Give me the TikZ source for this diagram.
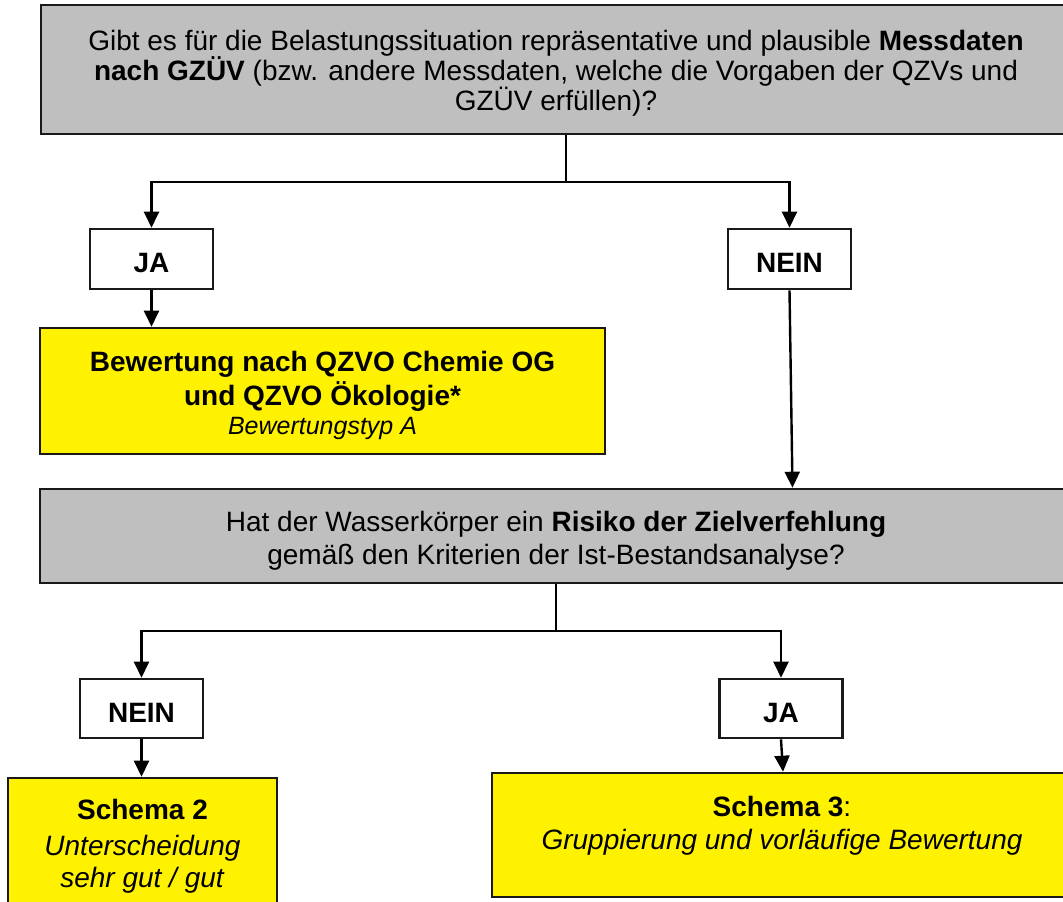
\documentclass[tikz,border=0pt]{standalone}
\usepackage{fontspec}
\setmainfont{Liberation Sans}
\usetikzlibrary{arrows.meta}
\begin{document}
\begin{tikzpicture}[x=1pt,y=-1pt,
  box/.style={draw=black!90, line width=2.6pt, rectangle, inner sep=0pt},
  question/.style={box, fill=gray!50},
  answer/.style={box, fill=white, minimum width=123pt, minimum height=60pt},
  result/.style={box, fill=yellow},
  txt/.style={align=center, inner sep=0pt},
  anstxt/.style={txt, font=\fontsize{28}{30}\selectfont\bfseries},
  link/.style={line width=2.4pt, -{Triangle[width=15pt,length=16pt]}},
  trunk/.style={line width=2.4pt}
]
\useasboundingbox (0,0) rectangle (1063,902);

% boxes
\node[question, minimum width=1030pt, minimum height=129pt] (q1) at (556,69.5) {};
\node[answer] (ja1) at (151.5,259) {};
\node[answer] (nein1) at (789.5,259) {};
\node[result, minimum width=565pt, minimum height=126pt] (r1) at (322.5,391) {};
\node[question, minimum width=1032pt, minimum height=94pt] (q2) at (556,536) {};
\node[answer, minimum height=59pt] (nein2) at (141.5,708.5) {};
\node[answer, minimum height=59pt] (ja2) at (781,708.5) {};
\node[result, minimum width=269pt, minimum height=134pt] (r2) at (142.5,845) {};
\node[result, minimum width=580pt, minimum height=124pt] (r3) at (782,835) {};

% box texts
\node[txt, font=\fontsize{28}{30}\selectfont] (q1t) at (556,73.5)
  {Gibt es für die Belastungssituation repräsentative und plausible \textbf{Messdaten}\\
   \textbf{nach GZÜV} (bzw. andere Messdaten, welche die Vorgaben der QZVs und\\
   GZÜV erfüllen)?};
\node[anstxt] (ja1t) at (151.5,263) {JA};
\node[anstxt] (nein1t) at (789.5,263) {NEIN};
\node[txt, font=\fontsize{28}{34}\selectfont] (r1t) at (322.5,395)
  {\textbf{Bewertung nach QZVO Chemie OG}\\
   \textbf{und QZVO Ökologie*}\\[-5pt]
   {\fontsize{25}{29}\selectfont\itshape Bewertungstyp A}};
\node[txt, font=\fontsize{28}{33}\selectfont] (q2t) at (556,541)
  {Hat der Wasserkörper ein \textbf{Risiko der Zielverfehlung}\\
   gemäß den Kriterien der Ist-Bestandsanalyse?};
\node[anstxt] (nein2t) at (141.5,712.5) {NEIN};
\node[anstxt] (ja2t) at (781,712.5) {JA};
\node[txt, font=\fontsize{28}{34}\selectfont] (r2t) at (142.5,846.5)
  {\textbf{Schema 2}\\[2pt]
   \textit{Unterscheidung}\\[-2pt]
   \textit{sehr gut / gut}};
\node[txt, font=\fontsize{28}{33}\selectfont] (r3t) at (782,826)
  {\textbf{Schema 3}:\\
   \textit{Gruppierung und vorläufige Bewertung}};

% branching connectors
\coordinate (b1) at (566,182);
\coordinate (b2) at (556,631);

\draw[trunk] (q1.south -| b1) -- (b1);
\draw[link] (b1) -| (ja1.north);
\draw[link] (b1) -| (nein1.north);
\draw[link] (ja1.south) -- (r1.north -| ja1.south);
\draw[link] (nein1.south) -- ([xshift=3pt]nein1.south |- q2.north);

\draw[trunk] (q2.south -| b2) -- (b2);
\draw[link] (b2) -| (nein2.north);
\draw[link] (b2) -| (ja2.north);
\draw[link] (nein2.south) -- (r2.north -| nein2.south);
\draw[link] (ja2.south) -- ([xshift=2pt]r3.north -| ja2.south);
\end{tikzpicture}
\end{document}
